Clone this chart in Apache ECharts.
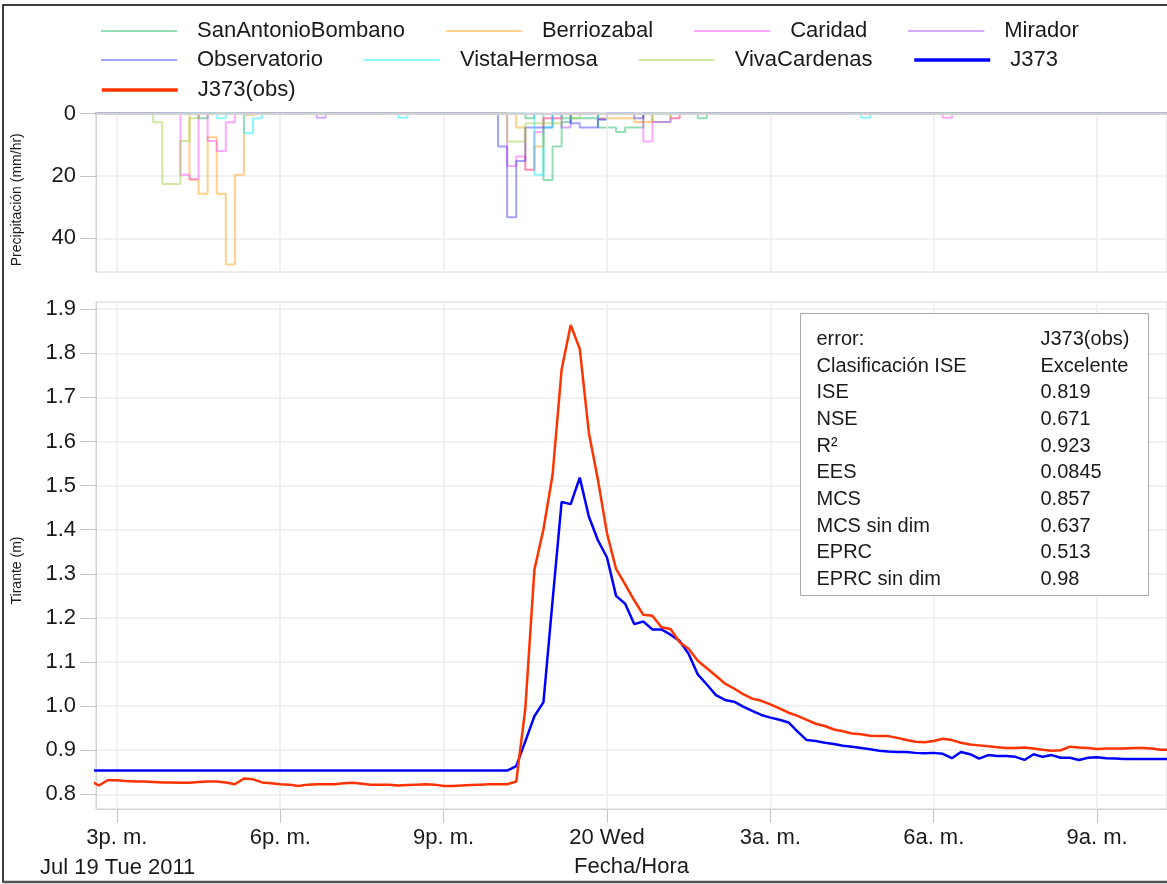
<!DOCTYPE html>
<html>
<head>
<meta charset="utf-8">
<title>J373 - Tirante y precipitación</title>
<script src="https://cdn.jsdelivr.net/npm/echarts@6/dist/echarts.min.js"></script>
<style>
  html, body { margin: 0; padding: 0; background: #ffffff; }
  #chart { width: 1167px; height: 884px; }
</style>
</head>
<body>
<div id="chart"></div>
<script>
// ---- Water depth at J373, 10-minute steps starting 2011-07-19 14:30 ----
const seriesStart = '2011-07-19 14:30';
const stepMinutes = 10;

// Simulated depth (m)
const depthSim = [
  0.854, 0.854, 0.854, 0.854, 0.854, 0.854, 0.854, 0.854, 0.854, 0.854,
  0.854, 0.854, 0.854, 0.854, 0.854, 0.854, 0.854, 0.854, 0.854, 0.854,
  0.854, 0.854, 0.854, 0.854, 0.854, 0.854, 0.854, 0.854, 0.854, 0.854,
  0.854, 0.854, 0.854, 0.854, 0.854, 0.854, 0.854, 0.854, 0.854, 0.854,
  0.854, 0.854, 0.854, 0.854, 0.854, 0.854, 0.854, 0.864, 0.920, 0.977,
  1.009, 1.238, 1.463, 1.458, 1.518, 1.430, 1.376, 1.337, 1.250, 1.232,
  1.186, 1.192, 1.174, 1.174, 1.162, 1.148, 1.118, 1.072, 1.049, 1.025,
  1.014, 1.010, 0.999, 0.989, 0.980, 0.974, 0.969, 0.963, 0.942, 0.923,
  0.921, 0.917, 0.914, 0.910, 0.908, 0.905, 0.902, 0.899, 0.897, 0.896,
  0.896, 0.894, 0.893, 0.894, 0.892, 0.882, 0.896, 0.891, 0.881, 0.889,
  0.887, 0.887, 0.885, 0.878, 0.891, 0.885, 0.889, 0.883, 0.883, 0.878,
  0.883, 0.884, 0.882, 0.881, 0.880, 0.880, 0.880, 0.880, 0.880, 0.880
];

// Observed depth (m)
const depthObs = [
  0.832, 0.820, 0.832, 0.832, 0.830, 0.829, 0.829, 0.828, 0.827, 0.827,
  0.826, 0.826, 0.828, 0.829, 0.829, 0.827, 0.823, 0.836, 0.834, 0.827,
  0.825, 0.823, 0.822, 0.819, 0.822, 0.823, 0.823, 0.823, 0.825, 0.826,
  0.824, 0.822, 0.822, 0.822, 0.820, 0.821, 0.822, 0.823, 0.822, 0.819,
  0.819, 0.820, 0.821, 0.822, 0.823, 0.823, 0.823, 0.829, 0.994, 1.309,
  1.401, 1.524, 1.763, 1.864, 1.810, 1.620, 1.513, 1.392, 1.311, 1.276,
  1.240, 1.207, 1.205, 1.179, 1.175, 1.145, 1.130, 1.103, 1.086, 1.069,
  1.051, 1.040, 1.027, 1.017, 1.012, 1.004, 0.995, 0.985, 0.978, 0.969,
  0.960, 0.955, 0.947, 0.943, 0.938, 0.936, 0.933, 0.932, 0.932, 0.928,
  0.923, 0.919, 0.918, 0.921, 0.926, 0.923, 0.917, 0.913, 0.911, 0.909,
  0.907, 0.905, 0.905, 0.906, 0.904, 0.901, 0.899, 0.900, 0.908, 0.906,
  0.905, 0.903, 0.904, 0.904, 0.904, 0.905, 0.905, 0.904, 0.901, 0.901
];

// ---- Rain gauges: intervals with rain, [interval start, intensity mm/hr] ----
const rainSanAntonioBombano = [
  ['2011-07-19 16:30', 1.5], ['2011-07-19 22:30', 1.5], ['2011-07-19 22:50', 21.3],
  ['2011-07-19 23:00', 10.6], ['2011-07-19 23:10', 2.7], ['2011-07-19 23:50', 4.5],
  ['2011-07-20 00:00', 4.5], ['2011-07-20 00:10', 5.9], ['2011-07-20 00:20', 4.5],
  ['2011-07-20 00:30', 4.5], ['2011-07-20 00:50', 2.7], ['2011-07-20 01:00', 2.7],
  ['2011-07-20 01:40', 1.5]
];
const rainBerriozabal = [
  ['2011-07-19 16:20', 21.3], ['2011-07-19 16:30', 25.7], ['2011-07-19 16:40', 7.6],
  ['2011-07-19 16:50', 25.7], ['2011-07-19 17:00', 48.4], ['2011-07-19 17:10', 19.6],
  ['2011-07-19 17:20', 0.5], ['2011-07-19 22:20', 4.5], ['2011-07-19 22:30', 18.0],
  ['2011-07-19 22:40', 10.6], ['2011-07-19 22:50', 1.5], ['2011-07-19 23:00', 1.5],
  ['2011-07-19 23:10', 1.5], ['2011-07-19 23:20', 1.5], ['2011-07-19 23:30', 1.5],
  ['2011-07-19 23:40', 1.5], ['2011-07-19 23:50', 1.5], ['2011-07-20 00:00', 1.5],
  ['2011-07-20 00:10', 1.5], ['2011-07-20 00:20', 1.5], ['2011-07-20 00:30', 2.7],
  ['2011-07-20 00:40', 2.7], ['2011-07-20 01:10', 1.5]
];
const rainCaridad = [
  ['2011-07-19 16:10', 19.6], ['2011-07-19 16:20', 21.0], ['2011-07-19 16:40', 8.8],
  ['2011-07-19 16:50', 12.0], ['2011-07-19 17:00', 2.8], ['2011-07-19 22:10', 16.8],
  ['2011-07-19 22:20', 13.8], ['2011-07-19 22:30', 18.0], ['2011-07-19 22:40', 5.9],
  ['2011-07-19 22:50', 1.5], ['2011-07-19 23:00', 1.5], ['2011-07-20 00:40', 9.0],
  ['2011-07-20 00:50', 2.7], ['2011-07-20 01:00', 2.7], ['2011-07-20 01:10', 1.5],
  ['2011-07-20 06:10', 1.4]
];
const rainMirador = [
  ['2011-07-19 18:40', 1.4], ['2011-07-19 23:10', 4.5], ['2011-07-19 23:50', 1.8]
];
const rainObservatorio = [
  ['2011-07-19 22:00', 10.6], ['2011-07-19 22:10', 33.3], ['2011-07-19 22:20', 15.2],
  ['2011-07-19 22:30', 4.5], ['2011-07-19 22:40', 4.5], ['2011-07-19 22:50', 4.5],
  ['2011-07-19 23:20', 3.1], ['2011-07-19 23:30', 4.5], ['2011-07-19 23:40', 4.5],
  ['2011-07-19 23:50', 2.0], ['2011-07-20 00:30', 1.5]
];
const rainVistaHermosa = [
  ['2011-07-19 16:50', 1.5], ['2011-07-19 17:20', 6.3], ['2011-07-19 17:30', 1.5],
  ['2011-07-19 20:10', 1.4], ['2011-07-19 22:40', 19.6], ['2011-07-19 22:50', 4.5],
  ['2011-07-19 23:10', 1.5], ['2011-07-19 23:20', 1.5], ['2011-07-19 23:30', 1.5],
  ['2011-07-19 23:40', 1.5], ['2011-07-20 04:40', 1.4]
];
const rainVivaCardenas = [
  ['2011-07-19 15:40', 2.8], ['2011-07-19 15:50', 22.6], ['2011-07-19 16:00', 22.6],
  ['2011-07-19 16:10', 8.8], ['2011-07-19 16:20', 1.5], ['2011-07-19 22:10', 9.0],
  ['2011-07-19 22:20', 9.0], ['2011-07-19 22:30', 3.1], ['2011-07-19 22:40', 3.1],
  ['2011-07-19 22:50', 3.1], ['2011-07-19 23:00', 3.1], ['2011-07-19 23:20', 1.5]
];

const stationNames = ['SanAntonioBombano', 'Berriozabal', 'Caridad', 'Mirador',
  'Observatorio', 'VistaHermosa', 'VivaCardenas'];
const stationRain = [rainSanAntonioBombano, rainBerriozabal, rainCaridad, rainMirador,
  rainObservatorio, rainVistaHermosa, rainVivaCardenas];
const stationColors = ['rgba(0,176,80,0.42)', 'rgba(255,153,0,0.45)', 'rgba(255,51,255,0.42)',
  'rgba(153,51,255,0.42)', 'rgba(0,0,255,0.36)', 'rgba(0,240,255,0.45)', 'rgba(153,204,51,0.45)'];

// ---- Axes ----
const dayStart = '2011-07-19 00:00';       // time axis counts hours from here
const timeMin = '2011-07-19 14:37';
const timeMax = '2011-07-20 10:17';
const timeTicks = ['2011-07-19 15:00', '2011-07-19 18:00', '2011-07-19 21:00',
  '2011-07-20 00:00', '2011-07-20 03:00', '2011-07-20 06:00', '2011-07-20 09:00'];
const timeTickLabels = ['3p. m.', '6p. m.', '9p. m.', '20 Wed', '3a. m.', '6a. m.', '9a. m.'];
const depthTicks = [0.8, 0.9, 1.0, 1.1, 1.2, 1.3, 1.4, 1.5, 1.6, 1.7, 1.8, 1.9];

// ---- Goodness-of-fit summary ----
const statNames = ['error:', 'Clasificación ISE', 'ISE', 'NSE', 'R²', 'EES', 'MCS',
  'MCS sin dim', 'EPRC', 'EPRC sin dim'];
const statValues = ['J373(obs)', 'Excelente', '0.819', '0.671', '0.923', '0.0845', '0.857',
  '0.637', '0.513', '0.98'];

// ---------------------------------------------------------------
const FONT = '"Liberation Sans", Arial, sans-serif';
const ts = s => new Date(s.replace(' ', 'T')).getTime();
const hourOf = s => Math.round((ts(s) - ts(dayStart)) / 60000) / 60;   // hours since dayStart
const h0 = hourOf(seriesStart);
const stepHours = stepMinutes / 60;
const stepHour = k => Math.round((h0 + k * stepHours) * 6000) / 6000;
const stepHoursList = depthObs.map((_, k) => stepHour(k));

const tickHours = timeTicks.map(hourOf);
const tickFormatter = v => {
  const i = tickHours.findIndex(h => Math.abs(h - v) < 1e-6);
  return i >= 0 ? timeTickLabels[i] : '';
};

// Hyetograph: intensity held over each interval, zero where no rain was recorded
function rainSteps(list) {
  const byStep = {};
  list.forEach(([t, v]) => { byStep[Math.round(hourOf(t) * 6)] = v; });
  return stepHoursList.map(h => {
    const v = byStep[Math.round(h * 6)];
    return [h, v != null ? v : 0];
  });
}

// Depth axis: data range padded by 5 %
const allDepth = depthSim.concat(depthObs);
const dMin = Math.min(...allDepth), dMax = Math.max(...allDepth);
const dPad = (dMax - dMin) * 0.05;
const rainMax = Math.max(...stationRain.map(l => Math.max(...l.map(p => p[1])))) * 1.05;

const gridLeft = 96, gridWidth = 1074;
const axisLineColor = '#d3d3d3';
const splitColor = '#ececec';
const labelColor = '#1a1a1a';

const chart = echarts.init(document.getElementById('chart'), null, { renderer: 'canvas' });

const legendCommon = {
  orient: 'horizontal',
  left: 95,
  itemWidth: 76,
  itemHeight: 26,
  itemGap: 40,
  selectedMode: false,
  itemStyle: { opacity: 0 },
  textStyle: { fontFamily: FONT, fontSize: 22, color: labelColor, padding: [0, 0, 0, 15], lineHeight: 26 }
};

const rainSeries = stationNames.map((name, i) => ({
  name: name,
  type: 'line',
  xAxisIndex: 0,
  yAxisIndex: 0,
  step: 'end',
  symbol: 'none',
  silent: true,
  lineStyle: { color: stationColors[i], width: 2 },
  itemStyle: { color: stationColors[i] },
  data: rainSteps(stationRain[i]),
  z: 2
}));

const tableZ = 30;
const option = {
  animation: false,
  backgroundColor: '#ffffff',
  textStyle: { fontFamily: FONT },
  legend: [
    Object.assign({}, legendCommon, { top: 13, data: stationNames.slice(0, 4) }),
    Object.assign({}, legendCommon, { top: 42,
      data: stationNames.slice(4, 7).concat([{ name: 'J373', lineStyle: { width: 3.5 } }]) }),
    Object.assign({}, legendCommon, { top: 72,
      data: [{ name: 'J373(obs)', lineStyle: { width: 3.5 } }] })
  ],
  grid: [
    { left: gridLeft, top: 113.5, width: gridWidth, height: 158.5, show: true,
      borderColor: axisLineColor, borderWidth: 1 },
    { left: gridLeft, top: 302, width: gridWidth, height: 507, show: true,
      borderColor: axisLineColor, borderWidth: 1 }
  ],
  xAxis: [
    {
      type: 'value', gridIndex: 0, position: 'top', z: 5,
      min: hourOf(timeMin), max: hourOf(timeMax),
      axisLine: { show: true, lineStyle: { color: axisLineColor, width: 2 } },
      axisTick: { show: false, customValues: tickHours },
      axisLabel: { show: false, customValues: tickHours },
      splitLine: { show: true, lineStyle: { color: splitColor, width: 1.5 } }
    },
    {
      type: 'value', gridIndex: 1, position: 'bottom',
      min: hourOf(timeMin), max: hourOf(timeMax),
      name: 'Fecha/Hora', nameLocation: 'middle', nameGap: 47,
      nameTextStyle: { fontFamily: FONT, fontSize: 22, color: labelColor },
      axisLine: { show: true, lineStyle: { color: axisLineColor, width: 1 } },
      axisTick: { show: true, inside: false, length: 14, customValues: tickHours,
        lineStyle: { color: '#c4c4c4' } },
      axisLabel: { show: true, customValues: tickHours, formatter: tickFormatter, margin: 18,
        fontFamily: FONT, fontSize: 22, color: labelColor },
      splitLine: { show: true, lineStyle: { color: splitColor, width: 1.5 } }
    }
  ],
  yAxis: [
    {
      type: 'value', gridIndex: 0, inverse: true,
      min: 0, max: rainMax, interval: 20,
      name: 'Precipitación (mm/hr)', nameLocation: 'middle', nameGap: 72, nameRotate: 90,
      nameTextStyle: { fontFamily: FONT, fontSize: 14, color: labelColor, padding: [0, 14, 0, 0] },
      axisLine: { show: true, lineStyle: { color: axisLineColor } },
      axisTick: { show: true, length: 16, lineStyle: { color: '#c4c4c4' } },
      axisLabel: { fontFamily: FONT, fontSize: 22, color: labelColor, margin: 20,
        showMaxLabel: false },
      splitLine: { show: true, lineStyle: { color: splitColor, width: 1.5 } }
    },
    {
      type: 'value', gridIndex: 1,
      min: dMin - dPad, max: dMax + dPad,
      name: 'Tirante (m)', nameLocation: 'middle', nameGap: 72, nameRotate: 90,
      nameTextStyle: { fontFamily: FONT, fontSize: 14, color: labelColor, padding: [0, 30, 0, 0] },
      axisLine: { show: true, lineStyle: { color: axisLineColor } },
      axisTick: { show: true, length: 16, customValues: depthTicks, lineStyle: { color: '#c4c4c4' } },
      axisLabel: { fontFamily: FONT, fontSize: 22, color: labelColor, margin: 20,
        customValues: depthTicks, formatter: v => v.toFixed(1) },
      splitLine: { show: true, lineStyle: { color: splitColor, width: 1.5 } }
    }
  ],
  series: rainSeries.concat([
    {
      name: 'J373', type: 'line', xAxisIndex: 1, yAxisIndex: 1,
      symbol: 'none', silent: true,
      lineStyle: { color: '#0000ff', width: 2.5 }, itemStyle: { color: '#0000ff' },
      data: depthSim.map((v, k) => [stepHoursList[k], v]), z: 3
    },
    {
      name: 'J373(obs)', type: 'line', xAxisIndex: 1, yAxisIndex: 1,
      symbol: 'none', silent: true,
      lineStyle: { color: '#ff3300', width: 2.5 }, itemStyle: { color: '#ff3300' },
      data: depthObs.map((v, k) => [stepHoursList[k], v]), z: 3
    }
  ]),
  graphic: [
    // outer frame
    { type: 'rect', silent: true, z: 100,
      shape: { x: 3, y: 5, width: 1190, height: 877 },
      style: { fill: 'none', stroke: '#000000', lineWidth: 1.5 } },
    { type: 'line', silent: true, z: 100,
      shape: { x1: 3, y1: 882, x2: 1190, y2: 882 },
      style: { stroke: '#555555', lineWidth: 2.5 } },
    // date of the first day
    { type: 'text', silent: true, left: 40, top: 857, z: 10,
      style: { text: 'Jul 19 Tue 2011', fontFamily: FONT, fontSize: 22, fill: labelColor } },
    // summary table
    { type: 'group', silent: true, left: 800, top: 313, z: tableZ,
      children: [
        { type: 'rect', z: tableZ, shape: { x: 0, y: 0, width: 348, height: 282 },
          style: { fill: '#ffffff', stroke: '#a8a8a8', lineWidth: 1 } }
      ].concat(statNames.map((s, i) => ({
        type: 'text', z: tableZ + 1, x: 16, y: 26 + i * 26.67,
        style: { text: s, fontFamily: FONT, fontSize: 20, fill: labelColor, verticalAlign: 'middle' }
      }))).concat(statValues.map((s, i) => ({
        type: 'text', z: tableZ + 1, x: 240, y: 26 + i * 26.67,
        style: { text: s, fontFamily: FONT, fontSize: 20, fill: labelColor, verticalAlign: 'middle' }
      })))
    }
  ]
};

chart.setOption(option);
</script>
</body>
</html>
